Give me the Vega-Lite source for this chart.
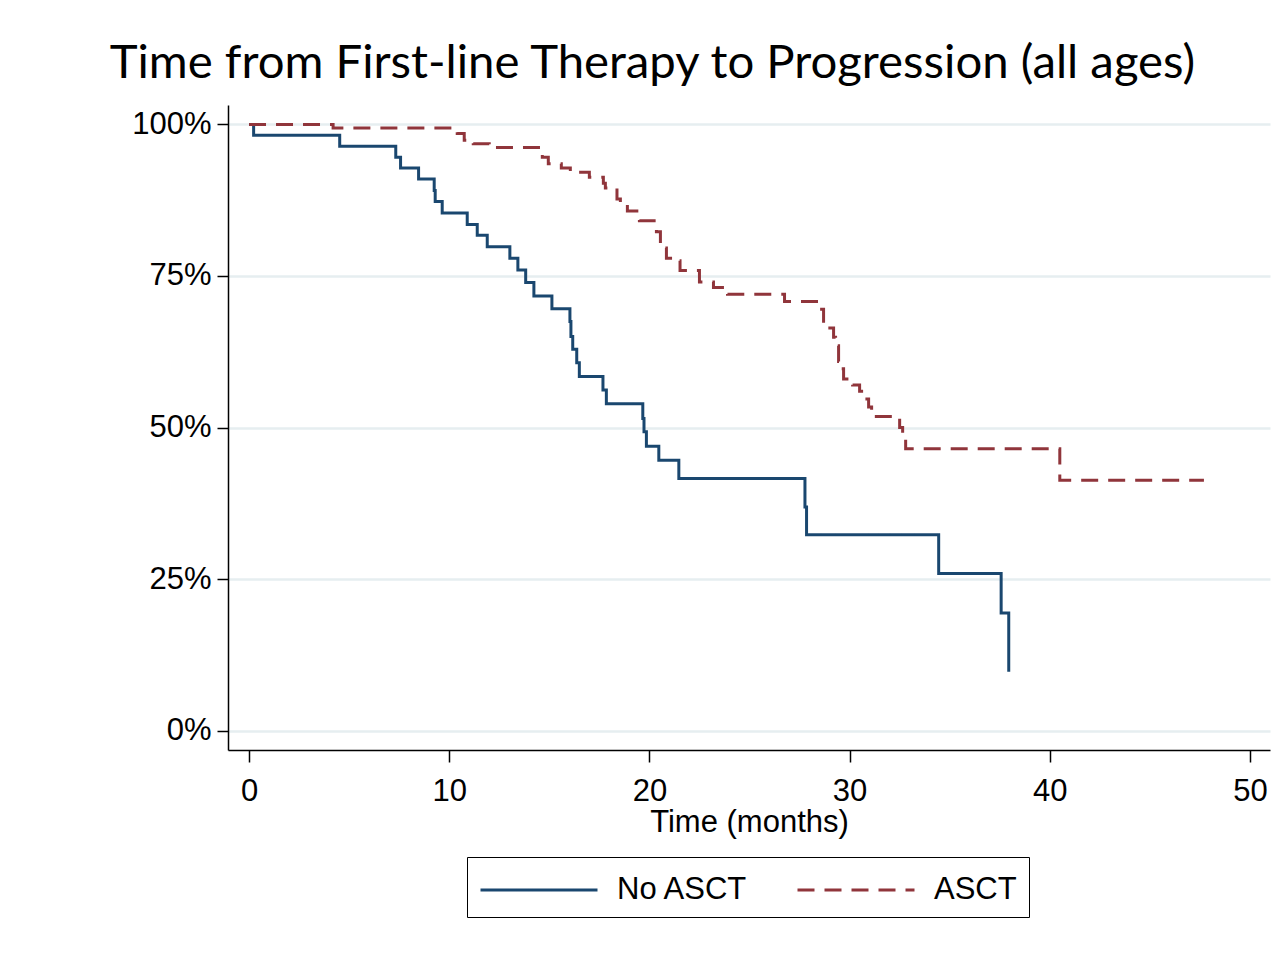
{
  "$schema": "https://vega.github.io/schema/vega-lite/v6.json",
  "autosize": "none",
  "width": 1042,
  "height": 645,
  "padding": {"left": 228, "top": 105, "right": 9, "bottom": 214},
  "background": "white",
  "title": {
    "text": "Time from First-line Therapy to Progression (all ages)",
    "anchor": "start",
    "dx": -22,
    "offset": 17,
    "font": "Lato",
    "fontSize": 47.3,
    "fontWeight": "normal",
    "color": "black"
  },
  "config": {
    "view": {"stroke": null},
    "font": "Liberation Sans"
  },
  "data": {
    "values": [
      {"group": "No ASCT", "t": 0, "s": 100},
      {"group": "No ASCT", "t": 0.23, "s": 98.2},
      {"group": "No ASCT", "t": 4.53, "s": 96.4},
      {"group": "No ASCT", "t": 7.33, "s": 94.6},
      {"group": "No ASCT", "t": 7.57, "s": 92.8},
      {"group": "No ASCT", "t": 8.47, "s": 91.0},
      {"group": "No ASCT", "t": 9.25, "s": 89.1},
      {"group": "No ASCT", "t": 9.3, "s": 87.3},
      {"group": "No ASCT", "t": 9.65, "s": 85.4},
      {"group": "No ASCT", "t": 10.9, "s": 83.5},
      {"group": "No ASCT", "t": 11.4, "s": 81.7},
      {"group": "No ASCT", "t": 11.9, "s": 79.8},
      {"group": "No ASCT", "t": 13.03, "s": 77.9},
      {"group": "No ASCT", "t": 13.43, "s": 76.0},
      {"group": "No ASCT", "t": 13.82, "s": 73.9},
      {"group": "No ASCT", "t": 14.23, "s": 71.7},
      {"group": "No ASCT", "t": 15.13, "s": 69.6},
      {"group": "No ASCT", "t": 16.03, "s": 67.5},
      {"group": "No ASCT", "t": 16.08, "s": 65.0},
      {"group": "No ASCT", "t": 16.17, "s": 62.9},
      {"group": "No ASCT", "t": 16.37, "s": 60.7},
      {"group": "No ASCT", "t": 16.5, "s": 58.4},
      {"group": "No ASCT", "t": 17.68, "s": 56.2},
      {"group": "No ASCT", "t": 17.85, "s": 53.9},
      {"group": "No ASCT", "t": 19.67, "s": 51.5},
      {"group": "No ASCT", "t": 19.73, "s": 49.3},
      {"group": "No ASCT", "t": 19.85, "s": 46.9},
      {"group": "No ASCT", "t": 20.47, "s": 44.6},
      {"group": "No ASCT", "t": 21.47, "s": 41.6},
      {"group": "No ASCT", "t": 27.77, "s": 36.9},
      {"group": "No ASCT", "t": 27.85, "s": 32.3},
      {"group": "No ASCT", "t": 34.45, "s": 25.9},
      {"group": "No ASCT", "t": 37.57, "s": 19.4},
      {"group": "No ASCT", "t": 37.95, "s": 9.7},
      {"group": "ASCT", "t": 0, "s": 100},
      {"group": "ASCT", "t": 4.2, "s": 99.4},
      {"group": "ASCT", "t": 10.4, "s": 98.5},
      {"group": "ASCT", "t": 10.75, "s": 97.4},
      {"group": "ASCT", "t": 11.2, "s": 96.8},
      {"group": "ASCT", "t": 12.0, "s": 96.2},
      {"group": "ASCT", "t": 14.65, "s": 94.6},
      {"group": "ASCT", "t": 14.95, "s": 93.5},
      {"group": "ASCT", "t": 15.6, "s": 92.8},
      {"group": "ASCT", "t": 16.05, "s": 92.1},
      {"group": "ASCT", "t": 17.0, "s": 91.3},
      {"group": "ASCT", "t": 17.7, "s": 90.3},
      {"group": "ASCT", "t": 17.8, "s": 89.5},
      {"group": "ASCT", "t": 18.38, "s": 87.7},
      {"group": "ASCT", "t": 18.55, "s": 86.8},
      {"group": "ASCT", "t": 18.9, "s": 85.7},
      {"group": "ASCT", "t": 19.5, "s": 84.1},
      {"group": "ASCT", "t": 20.35, "s": 82.3},
      {"group": "ASCT", "t": 20.55, "s": 79.6},
      {"group": "ASCT", "t": 20.85, "s": 77.9},
      {"group": "ASCT", "t": 21.25, "s": 77.5},
      {"group": "ASCT", "t": 21.53, "s": 75.9},
      {"group": "ASCT", "t": 22.5, "s": 74.0},
      {"group": "ASCT", "t": 23.2, "s": 73.1},
      {"group": "ASCT", "t": 23.9, "s": 72.0},
      {"group": "ASCT", "t": 26.75, "s": 70.8},
      {"group": "ASCT", "t": 28.5, "s": 69.5},
      {"group": "ASCT", "t": 28.7, "s": 66.4},
      {"group": "ASCT", "t": 29.2, "s": 64.9},
      {"group": "ASCT", "t": 29.3, "s": 63.5},
      {"group": "ASCT", "t": 29.45, "s": 60.9},
      {"group": "ASCT", "t": 29.55, "s": 59.7},
      {"group": "ASCT", "t": 29.7, "s": 58.0},
      {"group": "ASCT", "t": 30.15, "s": 57.0},
      {"group": "ASCT", "t": 30.5, "s": 56.0},
      {"group": "ASCT", "t": 30.6, "s": 54.7},
      {"group": "ASCT", "t": 30.95, "s": 53.4},
      {"group": "ASCT", "t": 31.1, "s": 51.8},
      {"group": "ASCT", "t": 32.5, "s": 50.0},
      {"group": "ASCT", "t": 32.65, "s": 48.3},
      {"group": "ASCT", "t": 32.8, "s": 46.5},
      {"group": "ASCT", "t": 40.5, "s": 41.3},
      {"group": "ASCT", "t": 47.7, "s": 41.3}
    ]
  },
  "mark": {"type": "line", "interpolate": "step-after", "strokeWidth": 3, "clip": true},
  "encoding": {
    "x": {
      "field": "t",
      "type": "quantitative",
      "scale": {"domain": [-1.05, 51.0], "nice": false, "zero": false},
      "axis": {
        "values": [0, 10, 20, 30, 40, 50],
        "title": "Time (months)",
        "grid": false,
        "domainColor": "black",
        "domainWidth": 1.5,
        "tickColor": "black",
        "tickWidth": 1.5,
        "tickSize": 12,
        "labelFontSize": 31,
        "labelColor": "black",
        "labelPadding": 14,
        "labelFlush": false,
        "titleFontSize": 31,
        "titleFontWeight": "normal",
        "titleColor": "black",
        "titlePadding": 1
      }
    },
    "y": {
      "field": "s",
      "type": "quantitative",
      "scale": {"domain": [-3.2, 103.2], "nice": false, "zero": false},
      "axis": {
        "values": [0, 25, 50, 75, 100],
        "labelExpr": "datum.value + '%'",
        "title": null,
        "grid": true,
        "gridColor": "#e6eef0",
        "gridWidth": 2.5,
        "domainColor": "black",
        "domainWidth": 1.5,
        "tickColor": "black",
        "tickWidth": 1.5,
        "tickSize": 11,
        "labelFontSize": 31,
        "labelColor": "black",
        "labelPadding": 6,
        "labelFlush": false
      }
    },
    "color": {
      "field": "group",
      "type": "nominal",
      "scale": {"domain": ["No ASCT", "ASCT"], "range": ["#1a476f", "#90353b"]},
      "legend": {
        "title": null,
        "orient": "none",
        "legendX": 239,
        "legendY": 752,
        "direction": "horizontal",
        "strokeColor": "black",
        "fillColor": "white",
        "padding": 12,
        "symbolType": "M-1,0H5",
        "symbolSize": 1521,
        "symbolStrokeWidth": 3,
        "labelFontSize": 31,
        "labelColor": "black",
        "labelOffset": 96,
        "columnPadding": 43
      }
    },
    "strokeDash": {
      "field": "group",
      "type": "nominal",
      "scale": {"domain": ["No ASCT", "ASCT"], "range": [[1, 0], [17, 10]]},
      "legend": {
        "title": null,
        "orient": "none",
        "legendX": 239,
        "legendY": 752,
        "direction": "horizontal",
        "strokeColor": "black",
        "fillColor": "white",
        "padding": 12,
        "symbolType": "M-1,0H5",
        "symbolSize": 1521,
        "symbolStrokeWidth": 3,
        "labelFontSize": 31,
        "labelColor": "black",
        "labelOffset": 96,
        "columnPadding": 43
      }
    }
  }
}
